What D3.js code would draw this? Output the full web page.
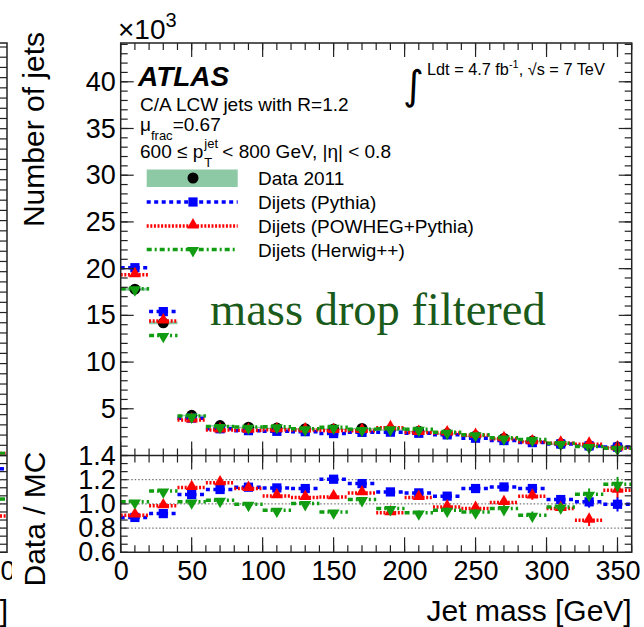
<!DOCTYPE html>
<html>
<head>
<meta charset="utf-8">
<script src="https://cdn.jsdelivr.net/npm/d3@7"></script>
<style>
  body { margin: 0; background: #fff; }
  svg { display: block; }
  text { font-family: "Liberation Sans", Arial, sans-serif; fill: #000; }
</style>
</head>
<body>
<div id="chart"></div>
<script>
// Jet mass distribution, C/A LCW R=1.2 mass-drop filtered, 600-800 GeV
// counts are in units of 10^3 jets, bins are 20 GeV wide

var binCenters = [10, 30, 50, 70, 90, 110, 130, 150, 170, 190, 210, 230, 250, 270, 290, 310, 330, 350];
var binHalfWidth = 10;

var dataCounts   = [17.8, 14.2, 4.3, 3.2, 3.03, 2.93, 2.87, 2.83, 2.9, 2.75, 2.6, 2.35, 2.08, 1.82, 1.55, 1.27, 1.05, 0.9];
var dataSyst     = [0.15, 0.15, 0.06, 0.05, 0.05, 0.05, 0.05, 0.05, 0.05, 0.05, 0.04, 0.04, 0.04, 0.04, 0.03, 0.03, 0.03, 0.03];
var pythiaCounts = [20.1, 15.4, 4.0, 2.86, 2.66, 2.59, 2.55, 2.35, 2.48, 2.5, 2.38, 2.21, 1.85, 1.6, 1.38, 1.23, 1.03, 0.9];
var powhegCounts = [19.35, 14.4, 3.79, 2.73, 2.69, 2.75, 2.73, 2.67, 2.66, 2.97, 2.47, 2.41, 2.16, 1.8, 1.46, 1.32, 1.21, 0.81];
var herwigCounts = [17.85, 12.85, 4.23, 3.11, 3.04, 3.09, 2.86, 3.03, 2.8, 2.86, 2.81, 2.48, 2.23, 1.89, 1.71, 1.3, 0.97, 0.77];

// Data / MC
var pythiaRatio = [0.888, 0.92, 1.077, 1.119, 1.138, 1.132, 1.127, 1.204, 1.168, 1.099, 1.091, 1.064, 1.127, 1.14, 1.127, 1.036, 1.017, 0.997];
var powhegRatio = [0.907, 0.984, 1.135, 1.174, 1.127, 1.066, 1.053, 1.058, 1.091, 0.926, 1.053, 0.975, 0.962, 1.011, 1.064, 0.962, 0.865, 1.113];
var herwigRatio = [1.017, 1.107, 1.017, 1.03, 0.997, 0.948, 1.003, 0.934, 1.036, 0.962, 0.926, 0.948, 0.934, 0.962, 0.907, 0.975, 1.08, 1.163];
var ratioErr    = [0.006, 0.008, 0.012, 0.013, 0.014, 0.015, 0.015, 0.016, 0.017, 0.018, 0.02, 0.021, 0.023, 0.026, 0.03, 0.036, 0.048, 0.06];

// last bin of the neighbouring (cut off) panel on the left
var leftPanelRatio = [1.29, 0.90, 1.04];
var leftPanelCount = [0.25, 0.25];

var xTicks = [0, 50, 100, 150, 200, 250, 300, 350];
var mainYTicks = [5, 10, 15, 20, 25, 30, 35, 40];
var ratioYTicks = [0.6, 0.8, 1.0, 1.2, 1.4];
var ratioRefLines = [0.8, 1.0, 1.2];

var legendLabels = ["Data 2011", "Dijets (Pythia)", "Dijets (POWHEG+Pythia)", "Dijets (Herwig++)"];

var svgWidth = 644;
var svgHeight = 627;

var frame = { left: 120.7, right: 631.7, top: 43, split: 455.5, bottom: 552.3 };

var svg = d3.select("#chart")
    .append("svg")
    .attr("width", svgWidth)
    .attr("height", svgHeight);

var x = d3.scaleLinear().domain([0, 360]).range([frame.left, frame.right]);
var y = d3.scaleLinear().domain([0, 44.15]).range([frame.split, frame.top]);
var yr = d3.scaleLinear().domain([0.6, 1.4]).range([frame.bottom, frame.split]);

var series = [
    { counts: pythiaCounts, ratio: pythiaRatio, color: "#0000ff", dash: "4,3.5", marker: "square" },
    { counts: powhegCounts, ratio: powhegRatio, color: "#ff0000", dash: "2,1.6", marker: "up" },
    { counts: herwigCounts, ratio: herwigRatio, color: "#119c11", dash: "5,3,2,3", marker: "down" }
];

function markerPath(kind) {
    if (kind === "square") return d3.symbol().type(d3.symbolSquare).size(85)();
    return d3.symbol().type(d3.symbolTriangle).size(62)();
}

function drawMarker(g, kind, cx, cy, color) {
    var p = g.append("path")
        .attr("d", markerPath(kind))
        .attr("fill", color);
    if (kind === "down") p.attr("transform", `translate(${cx},${cy + 1}) rotate(180)`);
    else if (kind === "up") p.attr("transform", `translate(${cx},${cy - 1})`);
    else p.attr("transform", `translate(${cx},${cy})`);
}

// horizontal tick marks at scale(v), from x0 to x0+len
function hTicks(g, scale, values, x0, len) {
    g.selectAll(null)
        .data(values)
        .join("line")
        .attr("x1", x0).attr("x2", x0 + len)
        .attr("y1", d => scale(d)).attr("y2", d => scale(d))
        .attr("stroke", "#222").attr("stroke-width", 1.2);
}

// vertical tick marks at scale(v), from y0 to y0+len
function vTicks(g, scale, values, y0, len) {
    g.selectAll(null)
        .data(values)
        .join("line")
        .attr("y1", y0).attr("y2", y0 + len)
        .attr("x1", d => scale(d)).attr("x2", d => scale(d))
        .attr("stroke", "#222").attr("stroke-width", 1.2);
}

// ---- cut off neighbouring panel on the left ----
svg.append("clipPath").attr("id", "leftClip")
    .append("rect").attr("x", 0).attr("y", 0).attr("width", 12).attr("height", svgHeight);

var leftPanel = svg.append("g").attr("clip-path", "url(#leftClip)");
var leftX = 7;
var leftY = d3.scaleLinear().domain([0, 40]).range([frame.split, frame.top + 4]);

hTicks(leftPanel, leftY, d3.range(0, 41, 1), leftX, -7);
hTicks(leftPanel, yr, d3.range(0, 13).map(k => 0.6 + k * 0.2 / 3), leftX, -7);

leftPanel.selectAll(null)
    .data(ratioRefLines)
    .join("line")
    .attr("x1", 0).attr("x2", leftX)
    .attr("y1", d => yr(d)).attr("y2", d => yr(d))
    .attr("stroke", "#555").attr("stroke-width", 1).attr("stroke-dasharray", "1.5,2");

series.forEach((s, i) => {
    leftPanel.append("line")
        .attr("x1", 0).attr("x2", leftX)
        .attr("y1", yr(leftPanelRatio[i])).attr("y2", yr(leftPanelRatio[i]))
        .attr("stroke", s.color).attr("stroke-width", 3.5).attr("stroke-dasharray", s.dash);
});
series.slice(1).forEach((s, i) => {
    leftPanel.append("line")
        .attr("x1", 0).attr("x2", leftX)
        .attr("y1", y(leftPanelCount[i])).attr("y2", y(leftPanelCount[i]))
        .attr("stroke", s.color).attr("stroke-width", 3).attr("stroke-dasharray", s.dash);
});

leftPanel.append("path")
    .attr("d", `M0,${frame.top}H${leftX}V${frame.bottom}H0M0,${frame.split}H${leftX}`)
    .attr("fill", "none").attr("stroke", "#222").attr("stroke-width", 1.5);

leftPanel.append("text")
    .attr("x", -7).attr("y", 580)
    .attr("text-anchor", "middle")
    .attr("font-size", 27)
    .text("350");

leftPanel.append("text")
    .attr("x", leftX + 1).attr("y", 621)
    .attr("text-anchor", "end")
    .attr("font-size", 30)
    .text("Jet mass [GeV]");

// ---- ratio reference lines ----
svg.append("g")
    .selectAll("line")
    .data(ratioRefLines)
    .join("line")
    .attr("x1", frame.left).attr("x2", frame.right)
    .attr("y1", d => yr(d)).attr("y2", d => yr(d))
    .attr("stroke", "#555").attr("stroke-width", 1).attr("stroke-dasharray", "1.5,2");

// ---- main panel ----
var mainG = svg.append("g");

// data systematic band
mainG.selectAll("rect.band")
    .data(binCenters)
    .join("rect")
    .attr("class", "band")
    .attr("x", d => x(d - binHalfWidth))
    .attr("width", d => x(d + binHalfWidth) - x(d - binHalfWidth))
    .attr("y", (d, i) => y(dataCounts[i] + dataSyst[i]))
    .attr("height", (d, i) => Math.max(1.5, y(dataCounts[i] - dataSyst[i]) - y(dataCounts[i] + dataSyst[i])))
    .attr("fill", "#8cc9a4");

mainG.selectAll("circle.data")
    .data(binCenters)
    .join("circle")
    .attr("class", "data")
    .attr("cx", d => x(d))
    .attr("cy", (d, i) => y(dataCounts[i]))
    .attr("r", 5.5)
    .attr("fill", "#000");

series.forEach(s => {
    var g = mainG.append("g");
    binCenters.forEach((c, i) => {
        g.append("line")
            .attr("x1", x(c - binHalfWidth)).attr("x2", x(c + binHalfWidth))
            .attr("y1", y(s.counts[i])).attr("y2", y(s.counts[i]))
            .attr("stroke", s.color).attr("stroke-width", 3.5)
            .attr("stroke-dasharray", s.dash);
        drawMarker(g, s.marker, x(c), y(s.counts[i]), s.color);
    });
});

// ---- ratio panel ----
var ratioG = svg.append("g");
series.forEach(s => {
    var g = ratioG.append("g");
    binCenters.forEach((c, i) => {
        g.append("line")
            .attr("x1", x(c - binHalfWidth)).attr("x2", x(c + binHalfWidth))
            .attr("y1", yr(s.ratio[i])).attr("y2", yr(s.ratio[i]))
            .attr("stroke", s.color).attr("stroke-width", 3.5)
            .attr("stroke-dasharray", s.dash);
        g.append("line")
            .attr("x1", x(c)).attr("x2", x(c))
            .attr("y1", yr(s.ratio[i] - ratioErr[i])).attr("y2", yr(s.ratio[i] + ratioErr[i]))
            .attr("stroke", s.color).attr("stroke-width", 2);
        drawMarker(g, s.marker, x(c), yr(s.ratio[i]), s.color);
    });
});

// ---- frame and ticks ----
var axisG = svg.append("g");
var xMinor = d3.range(0, 361, 10);
var yMinor = d3.range(0, 45, 1);
var rMinor = d3.range(0, 13).map(k => 0.6 + k * 0.2 / 3);

// main panel
hTicks(axisG, y, yMinor, frame.left, 7);
hTicks(axisG, y, mainYTicks, frame.left, 13);
hTicks(axisG, y, yMinor, frame.right, -7);
hTicks(axisG, y, mainYTicks, frame.right, -13);
vTicks(axisG, x, xMinor, frame.top, 7);
vTicks(axisG, x, xTicks, frame.top, 14);
vTicks(axisG, x, xMinor, frame.split, -7);
vTicks(axisG, x, xTicks, frame.split, -14);

// ratio panel
hTicks(axisG, yr, rMinor, frame.left, 7);
hTicks(axisG, yr, rMinor, frame.right, -7);
vTicks(axisG, x, xMinor, frame.split, 7);
vTicks(axisG, x, xTicks, frame.split, 14);
vTicks(axisG, x, xMinor, frame.bottom, -7);
vTicks(axisG, x, xTicks, frame.bottom, -15);

axisG.append("path")
    .attr("d", `M${frame.left},${frame.top}H${frame.right}V${frame.bottom}H${frame.left}Z` +
               `M${frame.left},${frame.split}H${frame.right}`)
    .attr("fill", "none").attr("stroke", "#222").attr("stroke-width", 1.5);

// tick labels through d3 axes (tick lines drawn above)
function styleAxis(g) {
    g.select(".domain").remove();
    g.selectAll(".tick line").remove();
    g.attr("font-family", null).attr("font-size", null);
    g.selectAll("text").attr("font-size", 27).attr("fill", "#000");
}

svg.append("g")
    .attr("transform", `translate(${frame.left},0)`)
    .call(d3.axisLeft(y).tickValues(mainYTicks).tickSize(0).tickPadding(5).tickFormat(d3.format("d")))
    .call(styleAxis);

svg.append("g")
    .attr("transform", `translate(${frame.left},0)`)
    .call(d3.axisLeft(yr).tickValues(ratioYTicks).tickSize(0).tickPadding(5).tickFormat(d3.format(".1f")))
    .call(styleAxis);

svg.append("g")
    .attr("transform", `translate(0,${frame.bottom})`)
    .call(d3.axisBottom(x).tickValues(xTicks).tickSize(0).tickPadding(9).tickFormat(d3.format("d")))
    .call(styleAxis);

// ---- axis titles ----
svg.append("text")
    .attr("transform", "translate(44,32) rotate(-90)")
    .attr("text-anchor", "end")
    .attr("font-size", 30)
    .text("Number of jets");

svg.append("text")
    .attr("transform", `translate(45,${frame.split - 4}) rotate(-90)`)
    .attr("text-anchor", "end")
    .attr("font-size", 30)
    .text("Data / MC");

svg.append("text")
    .attr("x", frame.right)
    .attr("y", 621)
    .attr("text-anchor", "end")
    .attr("font-size", 30)
    .text("Jet mass [GeV]");

var expo = svg.append("text")
    .attr("x", 118)
    .attr("y", 39)
    .attr("font-size", 28);
expo.append("tspan").text("×10");
expo.append("tspan").attr("dy", -12).attr("font-size", 20).text("3");

// ---- labels ----
svg.append("text")
    .attr("x", 138).attr("y", 86)
    .attr("font-size", 28)
    .attr("font-weight", "bold")
    .attr("font-style", "italic")
    .text("ATLAS");

svg.append("text")
    .attr("x", 140).attr("y", 111)
    .attr("font-size", 19)
    .text("C/A LCW jets with R=1.2");

var mu = svg.append("text")
    .attr("x", 140).attr("y", 131)
    .attr("font-size", 19);
mu.append("tspan").text("μ");
mu.append("tspan").attr("dy", 9).attr("font-size", 13).text("frac");
mu.append("tspan").attr("dy", -9).text("=0.67");

var ptA = svg.append("text")
    .attr("x", 140).attr("y", 158)
    .attr("font-size", 19)
    .text("600 ≤ p");
var ptEnd = 140 + ptA.node().getComputedTextLength();
svg.append("text")
    .attr("x", ptEnd + 1).attr("y", 148)
    .attr("font-size", 13)
    .text("jet");
svg.append("text")
    .attr("x", ptEnd + 1).attr("y", 167)
    .attr("font-size", 13)
    .text("T");
svg.append("text")
    .attr("x", ptEnd + 19).attr("y", 158)
    .attr("font-size", 19)
    .text("< 800 GeV, |η| < 0.8");

svg.append("text")
    .attr("x", 403).attr("y", 99)
    .style("font-family", "'DejaVu Sans', sans-serif")
    .attr("font-size", 40)
    .text("∫");

var lumi = svg.append("text")
    .attr("x", 427).attr("y", 75)
    .attr("font-size", 16.3);
lumi.append("tspan").text("Ldt = 4.7 fb");
lumi.append("tspan").attr("dy", -7).attr("font-size", 11).text("-1");
lumi.append("tspan").attr("dy", 7).text(", √s = 7 TeV");

svg.append("text")
    .attr("x", 210).attr("y", 325)
    .style("font-family", "'Liberation Serif', 'DejaVu Serif', serif")
    .attr("font-size", 46.5)
    .style("fill", "#1a5a1a")
    .text("mass drop filtered");

// ---- legend ----
var legendRows = [178, 202, 226, 249.5];
var legend = svg.append("g");
var legX0 = 146.7, legX1 = 237.7, legMid = 193;

legend.append("rect")
    .attr("x", legX0).attr("y", legendRows[0] - 8.5)
    .attr("width", legX1 - legX0).attr("height", 17.5)
    .attr("fill", "#8cc9a4");
legend.append("circle")
    .attr("cx", legMid).attr("cy", legendRows[0])
    .attr("r", 5.5).attr("fill", "#000");

series.forEach((s, i) => {
    var cy = legendRows[i + 1];
    legend.append("line")
        .attr("x1", legX0).attr("x2", legX1)
        .attr("y1", cy).attr("y2", cy)
        .attr("stroke", s.color).attr("stroke-width", 3.5)
        .attr("stroke-dasharray", s.dash);
    drawMarker(legend, s.marker, legMid, cy, s.color);
});

legend.selectAll("text")
    .data(legendLabels)
    .join("text")
    .attr("x", 258)
    .attr("y", (d, i) => legendRows[i] + 7)
    .attr("font-size", 19)
    .text(d => d);
</script>
</body>
</html>
